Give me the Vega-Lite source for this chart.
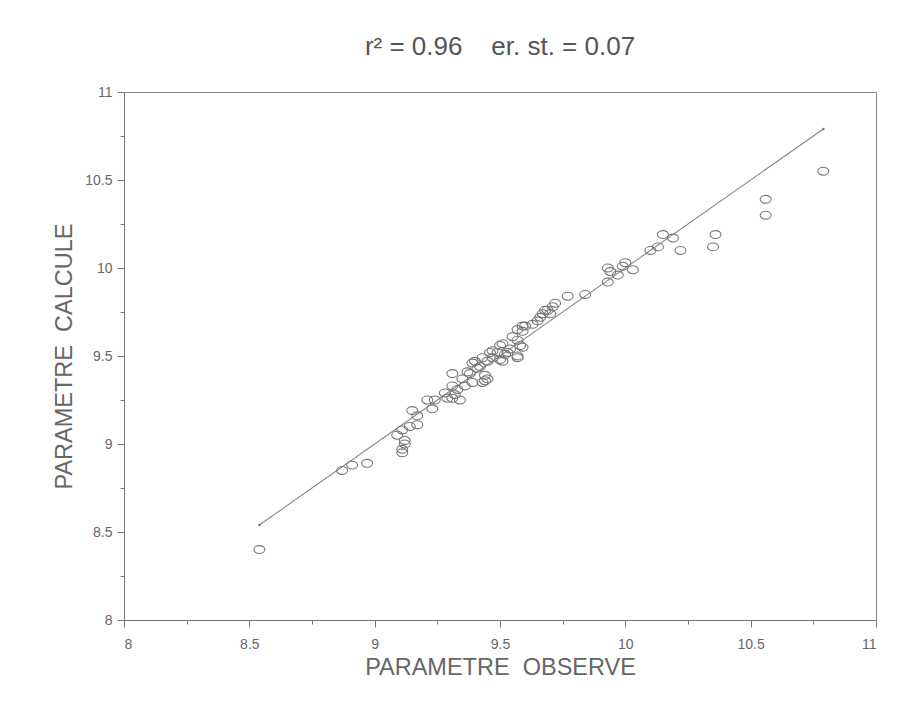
{
  "$schema": "https://vega.github.io/schema/vega-lite/v6.json",
  "autosize": "none",
  "width": 752,
  "height": 528,
  "padding": {"left": 124, "top": 92, "right": 46, "bottom": 98},
  "background": "white",
  "title": {
    "text": "r² = 0.96\u00a0\u00a0\u00a0\u00a0er. st. = 0.07",
    "anchor": "middle",
    "font": "Liberation Sans",
    "fontSize": 26,
    "fontWeight": "normal",
    "color": "#555555",
    "baseline": "alphabetic",
    "offset": 4
  },
  "config": {
    "view": {"stroke": "#888888", "strokeWidth": 1},
    "axis": {
      "domainColor": "#777777",
      "tickColor": "#777777",
      "labelColor": "#666666",
      "titleColor": "#666666",
      "labelFont": "Liberation Sans",
      "titleFont": "Liberation Sans",
      "labelFontSize": 14,
      "titleFontSize": 23.5,
      "titleFontWeight": "normal",
      "grid": false,
      "labelOverlap": false
    }
  },
  "datasets": {
    "pts": [
      {"obs": 8.54, "calc": 8.40},
      {"obs": 8.87, "calc": 8.85},
      {"obs": 8.91, "calc": 8.88},
      {"obs": 8.97, "calc": 8.89},
      {"obs": 9.09, "calc": 9.05},
      {"obs": 9.11, "calc": 9.08},
      {"obs": 9.14, "calc": 9.10},
      {"obs": 9.15, "calc": 9.19},
      {"obs": 9.17, "calc": 9.11},
      {"obs": 9.12, "calc": 9.02},
      {"obs": 9.12, "calc": 9.00},
      {"obs": 9.11, "calc": 8.97},
      {"obs": 9.11, "calc": 8.95},
      {"obs": 9.17, "calc": 9.16},
      {"obs": 9.21, "calc": 9.25},
      {"obs": 9.23, "calc": 9.20},
      {"obs": 9.24, "calc": 9.25},
      {"obs": 9.28, "calc": 9.29},
      {"obs": 9.29, "calc": 9.26},
      {"obs": 9.31, "calc": 9.26},
      {"obs": 9.32, "calc": 9.28},
      {"obs": 9.31, "calc": 9.33},
      {"obs": 9.31, "calc": 9.40},
      {"obs": 9.33, "calc": 9.31},
      {"obs": 9.34, "calc": 9.25},
      {"obs": 9.35, "calc": 9.37},
      {"obs": 9.36, "calc": 9.33},
      {"obs": 9.37, "calc": 9.41},
      {"obs": 9.38, "calc": 9.40},
      {"obs": 9.39, "calc": 9.35},
      {"obs": 9.39, "calc": 9.46},
      {"obs": 9.41, "calc": 9.43},
      {"obs": 9.40, "calc": 9.47},
      {"obs": 9.42, "calc": 9.44},
      {"obs": 9.43, "calc": 9.49},
      {"obs": 9.43, "calc": 9.35},
      {"obs": 9.44, "calc": 9.39},
      {"obs": 9.44, "calc": 9.36},
      {"obs": 9.45, "calc": 9.47},
      {"obs": 9.45, "calc": 9.37},
      {"obs": 9.46, "calc": 9.52},
      {"obs": 9.47, "calc": 9.49},
      {"obs": 9.47, "calc": 9.53},
      {"obs": 9.49, "calc": 9.52},
      {"obs": 9.50, "calc": 9.56},
      {"obs": 9.50, "calc": 9.48},
      {"obs": 9.51, "calc": 9.57},
      {"obs": 9.51, "calc": 9.47},
      {"obs": 9.52, "calc": 9.51},
      {"obs": 9.53, "calc": 9.52},
      {"obs": 9.54, "calc": 9.54},
      {"obs": 9.55, "calc": 9.61},
      {"obs": 9.57, "calc": 9.49},
      {"obs": 9.57, "calc": 9.50},
      {"obs": 9.57, "calc": 9.59},
      {"obs": 9.58, "calc": 9.56},
      {"obs": 9.59, "calc": 9.55},
      {"obs": 9.59, "calc": 9.64},
      {"obs": 9.57, "calc": 9.65},
      {"obs": 9.59, "calc": 9.67},
      {"obs": 9.60, "calc": 9.67},
      {"obs": 9.63, "calc": 9.68},
      {"obs": 9.65, "calc": 9.70},
      {"obs": 9.66, "calc": 9.72},
      {"obs": 9.67, "calc": 9.74},
      {"obs": 9.68, "calc": 9.76},
      {"obs": 9.69, "calc": 9.76},
      {"obs": 9.70, "calc": 9.74},
      {"obs": 9.71, "calc": 9.78},
      {"obs": 9.72, "calc": 9.80},
      {"obs": 9.77, "calc": 9.84},
      {"obs": 9.84, "calc": 9.85},
      {"obs": 9.93, "calc": 10.00},
      {"obs": 9.94, "calc": 9.98},
      {"obs": 9.93, "calc": 9.92},
      {"obs": 9.97, "calc": 9.96},
      {"obs": 9.99, "calc": 10.01},
      {"obs": 10.00, "calc": 10.03},
      {"obs": 10.03, "calc": 9.99},
      {"obs": 10.10, "calc": 10.10},
      {"obs": 10.13, "calc": 10.12},
      {"obs": 10.15, "calc": 10.19},
      {"obs": 10.19, "calc": 10.17},
      {"obs": 10.22, "calc": 10.10},
      {"obs": 10.36, "calc": 10.19},
      {"obs": 10.35, "calc": 10.12},
      {"obs": 10.56, "calc": 10.39},
      {"obs": 10.56, "calc": 10.30},
      {"obs": 10.79, "calc": 10.55}
    ],
    "fit": [
      {"obs": 8.54, "calc": 8.54},
      {"obs": 10.79, "calc": 10.79}
    ]
  },
  "encoding": {
    "x": {
      "field": "obs",
      "type": "quantitative",
      "scale": {"domain": [8, 11], "nice": false, "zero": false},
      "axis": {
        "title": "PARAMETRE\u00a0\u00a0OBSERVE",
        "values": [8, 8.25, 8.5, 8.75, 9, 9.25, 9.5, 9.75, 10, 10.25, 10.5, 10.75, 11],
        "labelExpr": "datum.value % 0.5 === 0 ? '' + datum.value : ''",
        "tickSize": {"condition": {"test": "datum.value % 0.5 === 0", "value": 7}, "value": 4},
        "labelPadding": 10,
        "titlePadding": 4
      }
    },
    "y": {
      "field": "calc",
      "type": "quantitative",
      "scale": {"domain": [8, 11], "nice": false, "zero": false},
      "axis": {
        "title": "PARAMETRE\u00a0\u00a0CALCULE",
        "values": [8, 8.25, 8.5, 8.75, 9, 9.25, 9.5, 9.75, 10, 10.25, 10.5, 10.75, 11],
        "labelExpr": "datum.value % 0.5 === 0 ? '' + datum.value : ''",
        "tickSize": {"condition": {"test": "datum.value % 0.5 === 0", "value": 7}, "value": 4},
        "labelPadding": 5,
        "titlePadding": 8
      }
    }
  },
  "layer": [
    {
      "data": {"name": "fit"},
      "mark": {"type": "line", "color": "#888888", "strokeWidth": 1.1, "point": {"filled": true, "size": 6, "color": "#777777"}}
    },
    {
      "data": {"name": "pts"},
      "mark": {
        "type": "point",
        "shape": "M -1 0 A 1 0.72 0 1 0 1 0 A 1 0.72 0 1 0 -1 0 Z",
        "size": 120,
        "filled": false,
        "stroke": "#777777",
        "strokeWidth": 1.1,
        "opacity": 1
      }
    }
  ]
}
